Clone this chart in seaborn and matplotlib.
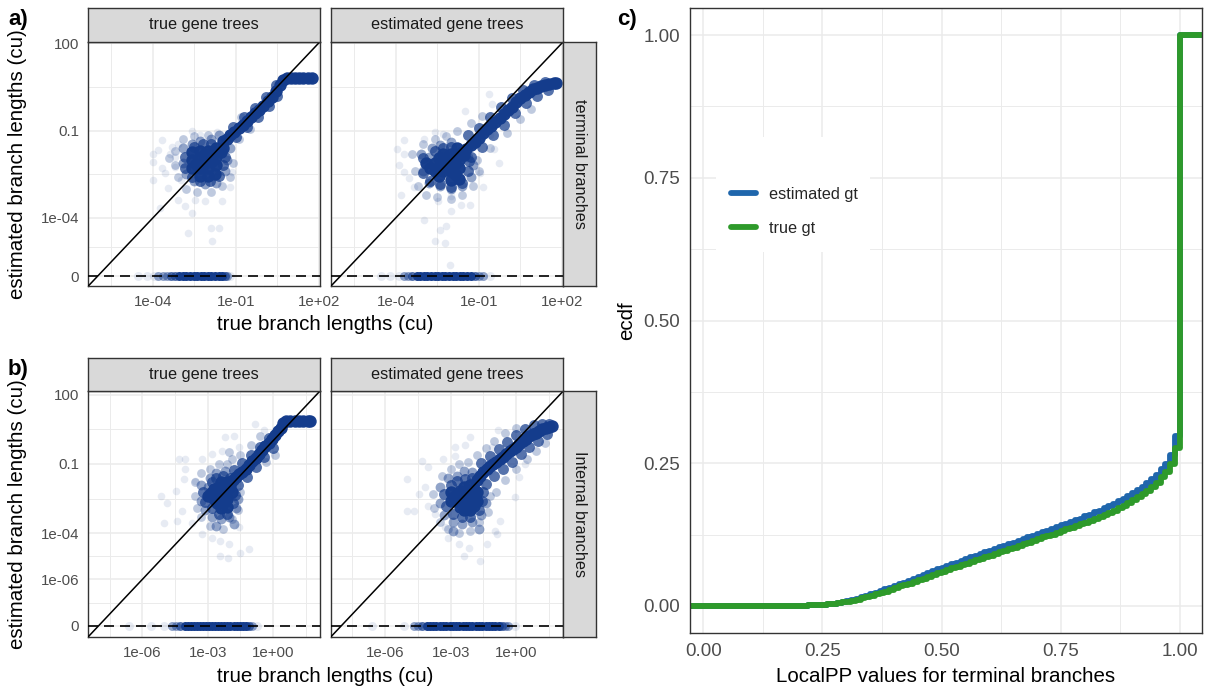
import numpy as np
import pandas as pd
import matplotlib
matplotlib.use("Agg")
import matplotlib.pyplot as plt
from matplotlib.lines import Line2D
from matplotlib.patches import Rectangle
from matplotlib.ticker import FixedLocator, NullFormatter
import seaborn as sns

# ------------------------------------------------------------------
# Branch-length comparison data (log10 of true / estimated length).
# Each location carries the number of gene-tree branches found there;
# the group name gives that count (see GROUP_COUNTS).
# ------------------------------------------------------------------
GROUP_COUNTS = {"dense": 40, "mid": 12, "light": 6, "faint": 3, "single": 1}

# a) terminal branches, true gene trees
term_true_dense = [
    (0.72, 0.74), (0.85, 0.79), (1.0, 0.81), (1.15, 0.82), (1.3, 0.82), (1.45, 0.82),
    (1.6, 0.82), (1.75, 0.81),
    (-1.2, -1.17), (-1.05, -1.04), (-0.9, -0.92), (-0.75, -0.8), (-0.6, -0.67), (-0.45, -0.54),
    (-0.3, -0.41), (-0.15, -0.28), (0.0, -0.15), (0.15, 0.0), (0.3, 0.16), (0.45, 0.34),
    (0.6, 0.55),
    (-2.6, -2.3), (-2.3, -2.3), (-2.0, -2.3), (-1.7, -2.2), (-2.6, -2.0), (-2.3, -2.0),
    (-2.0, -2.0), (-1.7, -1.9), (-1.45, -1.6), (-2.3, -1.7), (-2.0, -1.7), (-1.7, -1.6),
    (-1.45, -1.35), (-2.0, -2.55), (-1.75, -2.5), (-2.3, -2.55), (-2.6, -1.75), (-1.3, -1.3),
    (-2.45, -2.15), (-2.15, -2.15), (-1.85, -2.05), (-2.15, -1.85), (-1.85, -1.75), (-1.55, -1.75),
]
term_true_mid = [
    (-1.1, -0.88), (-0.7, -0.55), (-0.3, -0.21), (0.1, 0.15), (0.45, 0.55),
    (-1.0, -1.22), (-0.6, -0.89), (-0.2, -0.55), (0.2, -0.17), (0.5, 0.19),
    (-2.85, -1.9), (-2.85, -2.3), (-2.6, -2.6), (-2.3, -2.75), (-1.95, -2.75), (-1.6, -2.55),
    (-1.45, -2.2), (-1.4, -1.9), (-2.5, -1.55), (-2.2, -1.45), (-1.9, -1.45),
]
term_true_light = [
    (-2.9, -1.6), (-2.9, -2.1), (-2.8, -2.5), (-2.5, -2.75), (-2.1, -2.85), (-1.7, -2.8),
    (-1.4, -2.4), (-1.3, -2.0), (-1.2, -1.6), (-2.6, -1.45), (-2.3, -1.35), (-1.9, -1.3),
    (-1.6, -1.15),
]
term_true_faint = [
    (-3.2, -1.7), (-3.2, -2.2), (-3.1, -2.6), (-2.8, -3.0), (-2.4, -3.1), (-1.9, -3.1),
    (-1.5, -2.9), (-1.2, -2.6), (-1.1, -2.1), (-2.9, -1.3), (-2.5, -1.2), (-3.4, -1.95),
    (-2.0, -1.15), (-0.9, -1.3), (-0.5, -0.95), (-0.8, -0.55),
]
term_true_single = [
    (-3.67, -1.34), (-4.0, -1.79), (-4.0, -2.08), (-3.67, -2.30), (-4.0, -2.70), (-3.45, -2.98),
    (-3.31, -1.57), (-3.09, -1.45), (-2.60, -1.0), (-2.30, -1.17), (-1.69, -1.06), (-3.21, -2.25),
    (-3.57, -2.47), (-2.97, -2.70), (-3.09, -3.38), (-2.84, -3.60), (-2.48, -3.38), (-2.11, -3.43),
    (-2.60, -3.83), (-1.51, -3.43), (-1.20, -2.93), (-1.14, -2.42), (-3.76, -3.66), (-2.72, -4.51),
    (-1.90, -4.35), (-1.60, -4.36), (-1.85, -4.78), (-3.39, -1.79), (-3.21, -1.91), (-3.82, -1.68),
]
term_true_zero_dense = [-3.05, -2.92, -2.79, -2.66, -2.53, -2.4, -2.27, -2.14, -2.01, -1.88,
                        -1.75, -1.62, -1.5]
term_true_zero_mid = [-3.2, -3.35, -1.4]
term_true_zero_light = [-3.5, -3.65, -3.8, -1.3]
term_true_zero_single = [-4.55, -4.2, -3.95, -1.2]

# a) terminal branches, estimated gene trees
term_est_dense = [
    (-1.6, -1.75), (-1.45, -1.62), (-1.3, -1.5), (-1.15, -1.38), (-1.0, -1.25), (-0.85, -1.1),
    (-0.7, -0.95), (-0.55, -0.83), (-0.4, -0.72), (-0.25, -0.58), (-0.1, -0.45), (0.05, -0.3),
    (0.2, -0.18), (0.35, -0.03), (0.5, 0.1), (0.65, 0.22), (0.8, 0.33), (0.95, 0.41),
    (1.1, 0.47), (1.25, 0.53), (1.4, 0.57), (1.55, 0.6), (1.7, 0.62), (1.78, 0.63),
    (-2.6, -2.4), (-2.3, -2.4), (-2.0, -2.4), (-1.7, -2.3), (-2.6, -2.1), (-2.3, -2.1),
    (-2.0, -2.1), (-1.7, -2.0), (-2.3, -1.8), (-2.0, -1.8), (-1.8, -1.6), (-2.0, -2.7),
    (-1.7, -2.65), (-2.9, -2.1),
    (-2.45, -2.25), (-2.15, -2.25), (-1.85, -2.15), (-2.15, -1.95), (-1.85, -1.85),
    (-2.45, -1.95), (-1.55, -1.85), (-2.45, -2.55), (-1.85, -2.5), (-2.75, -2.3),
]
term_est_mid = [
    (-1.4, -1.15), (-1.0, -0.9), (-0.6, -0.55), (-0.2, -0.2), (0.2, 0.12), (0.6, 0.38),
    (1.0, 0.58), (1.4, 0.68), (-1.3, -1.9), (-0.9, -1.55), (-0.5, -1.15), (-0.1, -0.8),
    (0.3, -0.4), (0.7, -0.05), (1.1, 0.2), (1.5, 0.4),
    (-3.0, -1.95), (-3.0, -2.45), (-2.75, -2.75), (-2.4, -2.85), (-2.0, -2.95), (-1.6, -2.8),
    (-1.4, -2.4), (-1.35, -2.05), (-2.6, -1.7), (-2.3, -1.6), (-2.0, -1.55),
]
term_est_light = [
    (-3.1, -1.8), (-3.0, -2.4), (-2.8, -2.8), (-2.4, -2.9), (-2.0, -3.0), (-1.6, -2.9),
    (-1.3, -2.6), (-1.2, -2.2), (-2.7, -1.6), (-2.4, -1.5), (-2.0, -1.4), (-2.8, -1.9),
    (-1.4, -1.9),
]
term_est_faint = [
    (-3.4, -1.8), (-3.3, -2.4), (-3.2, -2.9), (-2.9, -3.2), (-2.5, -3.3), (-2.0, -3.35),
    (-1.6, -3.2), (-1.2, -2.9), (-1.0, -2.4), (-1.05, -2.0), (-3.0, -1.45), (-2.6, -1.3),
    (-2.2, -1.2), (-1.8, -1.0), (-1.3, -0.75), (-0.9, -0.5), (0.0, -1.1), (0.5, -0.6),
    (0.9, -0.25), (-0.6, -1.6),
]
term_est_single = [
    (-3.70, -1.34), (-3.94, -1.62), (-3.70, -1.79), (-3.88, -2.19), (-3.70, -2.42), (-3.51, -2.64),
    (-3.82, -3.21), (-3.33, -2.93), (-2.60, -1.06), (-2.30, -1.11), (-2.97, -1.28), (-2.48, -3.43),
    (-1.99, -3.26), (-1.63, -3.55), (-1.32, -3.55), (-2.97, -4.06), (-1.99, -3.77), (-2.42, -4.40),
    (-2.18, -4.28), (-2.60, -4.79), (-2.24, -4.85), (-2.05, -5.62), (-0.96, -2.47), (-0.84, -2.93),
    (-0.29, -2.13), (-1.51, -0.32), (-0.65, 0.25), (-0.53, -0.09), (-0.47, -1.62), (0.44, 0.08),
    (-0.59, -1.17),
]
term_est_zero_dense = [-3.25, -3.12, -2.99, -2.86, -2.73, -2.6, -2.47, -2.34, -2.21, -2.08,
                       -1.95, -1.82, -1.69, -1.56, -1.43, -1.3]
term_est_zero_mid = [-3.4, -1.15]
term_est_zero_light = [-3.55, -3.7, -1.0, -0.85]
term_est_zero_single = [-4.55, -4.2, -3.9, -0.6]

# b) internal branches, true gene trees
int_true_dense = [
    (0.45, 0.78), (0.6, 0.84), (0.8, 0.86), (1.0, 0.86), (1.2, 0.86), (1.4, 0.86),
    (1.6, 0.86), (1.72, 0.85),
    (-2.0, -1.85), (-1.85, -1.7), (-1.7, -1.55), (-1.55, -1.45), (-1.4, -1.35), (-1.25, -1.2),
    (-1.1, -1.05), (-0.95, -0.88), (-0.8, -0.72), (-0.65, -0.55), (-0.5, -0.38), (-0.35, -0.23),
    (-0.2, -0.08), (-0.05, 0.08), (0.1, 0.25), (0.25, 0.42), (0.35, 0.55),
    (-3.0, -2.4), (-2.7, -2.5), (-2.4, -2.6), (-2.1, -2.5), (-2.7, -2.1), (-2.4, -2.2),
    (-2.1, -2.1), (-2.4, -1.8), (-2.1, -1.8), (-1.9, -2.2), (-2.4, -2.9), (-2.1, -2.85),
    (-2.85, -2.25), (-2.55, -2.35), (-2.25, -2.35), (-2.55, -2.05), (-2.25, -1.95),
    (-2.25, -2.65), (-1.95, -1.95), (-2.55, -2.7),
]
int_true_mid = [
    (-1.8, -1.25), (-1.4, -0.95), (-1.0, -0.6), (-0.6, -0.25), (-0.2, 0.12),
    (-1.6, -1.9), (-1.2, -1.55), (-0.8, -1.15), (-0.4, -0.7), (0.0, -0.3),
    (-3.2, -2.2), (-3.1, -2.65), (-2.8, -2.9), (-2.5, -3.15), (-2.1, -3.15), (-1.85, -2.7),
    (-1.75, -2.35), (-2.8, -1.8), (-2.6, -1.6), (-2.3, -1.5), (-1.95, -1.6),
]
int_true_light = [
    (-3.3, -1.9), (-3.3, -2.6), (-3.1, -3.0), (-2.8, -3.3), (-2.4, -3.4), (-2.0, -3.3),
    (-1.7, -2.9), (-1.6, -2.5), (-2.9, -1.6), (-2.6, -1.4), (-2.2, -1.3), (-3.0, -2.0),
    (-1.8, -3.6), (-2.6, -3.7),
]
int_true_faint = [
    (-3.6, -1.8), (-3.6, -2.4), (-3.5, -2.9), (-3.3, -3.3), (-2.9, -3.7), (-2.3, -3.8),
    (-1.9, -3.4), (-1.6, -3.0), (-1.5, -2.2), (-3.3, -1.4), (-2.9, -1.2), (-2.5, -1.0),
    (-2.1, -1.0), (-1.9, -0.8), (-1.5, -0.6), (-1.0, -0.2), (-0.6, 0.2), (-0.3, -0.9),
    (0.1, -0.6), (-2.0, -0.5),
]
int_true_single = [
    (-4.32, -0.78), (-4.02, -0.78), (-4.02, -1.22), (-4.09, -1.65), (-3.56, -1.72), (-5.16, -2.38),
    (-4.85, -2.67), (-4.47, -2.16), (-4.17, -3.03), (-5.01, -3.54), (-4.40, -3.46), (-3.71, -3.54),
    (-3.25, -0.78), (-2.34, -0.42), (-2.18, 0.16), (-1.80, 0.23), (-0.81, 0.74), (-0.43, 0.45),
    (-2.41, -4.33), (-2.03, -4.48), (-1.50, -4.84), (-1.11, -4.70), (-2.41, -4.99), (-2.06, -5.06),
    (-2.79, -4.19), (-1.57, -3.75), (-3.25, -4.04), (-2.79, -0.57), (-1.57, -0.28),
]
int_true_zero_dense = [-4.05, -3.91, -3.77, -3.63, -3.49, -3.35, -3.21, -3.07, -2.93, -2.79,
                       -2.65, -2.51, -2.37, -2.23, -2.09, -1.95, -1.81, -1.67, -1.53, -1.39,
                       -1.25]
int_true_zero_mid = [-4.25, -1.1]
int_true_zero_light = [-4.45, -4.65, -0.95]
int_true_zero_single = [-6.6, -5.6, -5.0, -0.75]

# b) internal branches, estimated gene trees
int_est_dense = [
    (-1.8, -1.7), (-1.65, -1.52), (-1.5, -1.35), (-1.35, -1.22), (-1.2, -1.1), (-1.05, -1.0),
    (-0.9, -0.9), (-0.75, -0.8), (-0.6, -0.7), (-0.45, -0.57), (-0.3, -0.45), (-0.15, -0.35),
    (0.0, -0.25), (0.15, -0.12), (0.3, 0.0), (0.45, 0.1), (0.6, 0.2), (0.75, 0.28),
    (0.9, 0.35), (1.05, 0.43), (1.2, 0.5), (1.35, 0.56), (1.5, 0.62), (1.62, 0.64),
    (-3.0, -2.6), (-2.7, -2.6), (-2.4, -2.7), (-2.1, -2.7), (-1.8, -2.6), (-2.7, -2.3),
    (-2.4, -2.3), (-2.1, -2.3), (-1.8, -2.2), (-2.4, -2.0), (-2.1, -1.9), (-2.4, -3.0),
    (-2.1, -3.0), (-3.0, -2.2),
    (-2.85, -2.45), (-2.55, -2.45), (-2.25, -2.5), (-1.95, -2.45), (-2.55, -2.15),
    (-2.25, -2.15), (-1.95, -2.1), (-2.55, -2.85), (-2.25, -2.85), (-1.95, -2.8),
]
int_est_mid = [
    (-1.6, -0.95), (-1.2, -0.65), (-0.8, -0.35), (-0.4, -0.05), (0.0, 0.25), (0.4, 0.5),
    (0.8, 0.68), (1.2, 0.72), (1.5, 0.72), (-1.4, -1.85), (-1.0, -1.5), (-0.6, -1.2),
    (-0.2, -0.9), (0.2, -0.55), (0.6, -0.25), (1.0, 0.0), (1.4, 0.3),
    (-3.3, -2.3), (-3.2, -2.8), (-2.9, -3.15), (-2.5, -3.3), (-2.1, -3.3), (-1.7, -3.0),
    (-1.55, -2.6), (-1.5, -2.2), (-3.0, -1.9), (-2.7, -1.75), (-2.35, -1.65), (-2.0, -1.6),
]
int_est_light = [
    (-3.5, -2.0), (-3.5, -2.7), (-3.3, -3.2), (-2.9, -3.5), (-2.5, -3.6), (-2.0, -3.5),
    (-1.6, -3.2), (-1.4, -2.7), (-3.1, -1.6), (-2.7, -1.5), (-2.4, -1.3), (-2.0, -1.35),
    (-1.7, -3.8), (-2.9, -3.9),
]
int_est_faint = [
    (-3.8, -2.3), (-3.75, -2.9), (-3.5, -3.5), (-3.1, -3.8), (-2.6, -4.0), (-2.1, -3.9),
    (-1.7, -3.5), (-1.3, -3.1), (-1.2, -2.4), (-3.4, -1.5), (-3.0, -1.2), (-2.6, -1.0),
    (-2.2, -0.9), (-1.8, -0.6), (-1.4, -0.3), (-1.0, 0.0), (-0.5, 0.35), (0.0, 0.55),
    (-0.9, -2.2), (-0.5, -1.7), (0.0, -1.2), (0.5, -0.8), (0.9, -0.45), (1.3, -0.1),
]
int_est_single = [
    (-4.32, -0.86), (-4.02, -1.14), (-3.33, -0.78), (-2.79, -0.64), (-2.79, -0.28), (-2.11, 0.16),
    (-2.34, -0.20), (-0.81, 0.45), (-1.11, -0.28), (-5.01, -1.65), (-4.47, -2.30), (-5.01, -3.03),
    (-4.70, -3.03), (-4.02, -2.81), (-4.17, -2.01), (-3.71, -3.17), (-3.25, -3.75), (-3.10, -4.19),
    (-2.64, -4.48), (-2.41, -4.99), (-1.65, -5.20), (-2.18, -4.62), (-1.34, -4.48), (-0.89, -4.04),
    (-0.73, -3.46), (-0.05, -2.45), (0.11, -1.58), (0.41, -1.0), (-0.96, -3.90),
]
int_est_zero_dense = [-4.1, -3.95, -3.8, -3.65, -3.5, -3.35, -3.2, -3.05, -2.9, -2.75, -2.6,
                      -2.45, -2.3, -2.15, -2.0, -1.85, -1.7, -1.55, -1.4, -1.25, -1.1, -0.95,
                      -0.8]
int_est_zero_mid = [-4.3, -0.65]
int_est_zero_light = [-4.5, -4.7, -0.5, -0.35]
int_est_zero_single = [-6.6, -5.15, -0.05]

# c) ECDF of LocalPP values for terminal branches (value reached at each level)
pp_levels = np.round(np.arange(20, 101) / 100.0, 2)
ecdf_estimated = [
    0.000, 0.000, 0.001, 0.001, 0.001, 0.002, 0.003, 0.004, 0.005, 0.007,
    0.008, 0.010, 0.012, 0.015, 0.018, 0.020, 0.023, 0.026, 0.029, 0.032,
    0.035, 0.038, 0.041, 0.044, 0.047, 0.051, 0.054, 0.058, 0.061, 0.064,
    0.067, 0.070, 0.073, 0.076, 0.079, 0.082, 0.085, 0.088, 0.091, 0.094,
    0.097, 0.100, 0.103, 0.105, 0.108, 0.111, 0.114, 0.117, 0.120, 0.123,
    0.126, 0.129, 0.132, 0.135, 0.138, 0.141, 0.144, 0.147, 0.150, 0.153,
    0.157, 0.160, 0.164, 0.167, 0.171, 0.175, 0.179, 0.183, 0.188, 0.193,
    0.198, 0.203, 0.209, 0.215, 0.222, 0.230, 0.239, 0.249, 0.265, 0.297,
    1.000,
]
ecdf_true = [
    0.000, 0.000, 0.001, 0.001, 0.001, 0.002, 0.003, 0.004, 0.005, 0.006,
    0.007, 0.009, 0.011, 0.013, 0.015, 0.017, 0.020, 0.022, 0.025, 0.028,
    0.031, 0.034, 0.036, 0.039, 0.042, 0.045, 0.048, 0.051, 0.054, 0.057,
    0.060, 0.063, 0.066, 0.068, 0.071, 0.074, 0.077, 0.080, 0.082, 0.085,
    0.088, 0.091, 0.094, 0.096, 0.099, 0.102, 0.105, 0.108, 0.111, 0.114,
    0.117, 0.120, 0.122, 0.125, 0.128, 0.131, 0.134, 0.137, 0.140, 0.143,
    0.146, 0.149, 0.153, 0.156, 0.159, 0.163, 0.167, 0.171, 0.175, 0.180,
    0.185, 0.190, 0.196, 0.202, 0.209, 0.216, 0.225, 0.235, 0.248, 0.277,
    1.000,
]

# ------------------------------------------------------------------
# Style
# ------------------------------------------------------------------
sns.set_style("white")
plt.rcParams["font.family"] = ["Liberation Sans", "DejaVu Sans"]

POINT = "#143C8C"
BLUE = "#1F66AC"
GREEN = "#2E9A2A"
GRID = "#EBEBEB"
BORDER = "#333333"
STRIP = "#D9D9D9"
TICKLAB = "#4D4D4D"
SINGLE_ALPHA = 0.10
MARKER_SIZE = {40: 80, 12: 62, 6: 50, 3: 40, 1: 30}
ZERO_MARKER_SIZE = 42

W, H = 1207, 689
fig = plt.figure(figsize=(W / 100, H / 100), dpi=100)


def box(l, t, r, b):
    return [l / W, 1 - b / H, (r - l) / W, (b - t) / H]


def frame_axes(ax):
    for sp in ax.spines.values():
        sp.set_color(BORDER)
        sp.set_linewidth(1.0)
        sp.set_visible(True)


def panel_frame(groups, zero_groups):
    rows = []
    for group, pts in groups.items():
        for lx, ly in pts:
            rows.append((10.0 ** lx, 10.0 ** ly, GROUP_COUNTS[group]))
    for group, xs in zero_groups.items():
        for lx in xs:
            rows.append((10.0 ** lx, 0.0, GROUP_COUNTS[group]))
    return pd.DataFrame(rows, columns=["true_bl", "est_bl", "count"])


def draw_scatter(ax, df, floor, lim, yticks, ylabels, yminor, xticks, xlabels, xminor, show_y):
    df = df.copy()
    df["est_shown"] = np.where(df["est_bl"] > 0, df["est_bl"], floor)
    df["is_zero"] = df["est_bl"] <= 0
    for (cnt, is_zero), sub in df.groupby(["count", "is_zero"]):
        sns.scatterplot(data=sub, x="true_bl", y="est_shown", ax=ax, color=POINT,
                        alpha=1 - (1 - SINGLE_ALPHA) ** cnt,
                        s=ZERO_MARKER_SIZE if is_zero else MARKER_SIZE[cnt],
                        linewidth=0, legend=False, zorder=2)
    ax.set_xscale("log")
    ax.set_yscale("log")
    ax.set_xlim(10 ** lim[0], 10 ** lim[1])
    ax.set_ylim(10 ** lim[0], 10 ** lim[1])
    ax.set_xticks(xticks, xlabels)
    ax.set_yticks(yticks, ylabels)
    ax.xaxis.set_minor_locator(FixedLocator(xminor))
    ax.yaxis.set_minor_locator(FixedLocator(yminor))
    ax.xaxis.set_minor_formatter(NullFormatter())
    ax.yaxis.set_minor_formatter(NullFormatter())
    ax.set_axisbelow(True)
    ax.grid(which="major", color=GRID, lw=1.1)
    ax.grid(which="minor", color=GRID, lw=0.7)
    ax.tick_params(which="minor", length=0)
    ax.tick_params(which="major", length=3.6, width=0.8, color=BORDER,
                   labelcolor=TICKLAB, labelsize=10.8, pad=3)
    if not show_y:
        ax.tick_params(axis="y", which="major", length=0, labelleft=False)
    ax.axline((1e-3, 1e-3), (1.0, 1.0), color="black", lw=1.1, zorder=3)
    ax.axhline(floor, color="black", lw=1.2, ls=(0, (6, 3.6)), zorder=3)
    ax.set_xlabel("")
    ax.set_ylabel("")
    frame_axes(ax)


def strip(rect, text, rotation=0):
    sax = fig.add_axes(rect)
    sax.set_facecolor(STRIP)
    sax.set_xticks([])
    sax.set_yticks([])
    frame_axes(sax)
    sax.text(0.5, 0.5, text, transform=sax.transAxes, ha="center", va="center",
             fontsize=11.7, color="#1A1A1A", rotation=rotation)


# ------------------------------------------------------------------
# a) terminal branches
# ------------------------------------------------------------------
a_lim = (-6.34, 2.05)
a_yt, a_yl = [1e2, 1e-1, 1e-4, 1e-6], ["100", "0.1", "1e-04", "0"]
a_ym = [10 ** 0.5, 10 ** -2.5, 10 ** -5]
a_xt, a_xl = [1e-4, 1e-1, 1e2], ["1e-04", "1e-01", "1e+02"]
a_xm = [10 ** -5.5, 10 ** -2.5, 10 ** 0.5]

ax_a1 = fig.add_axes(box(88.3, 41.7, 320, 286))
df_a1 = panel_frame(
    {"dense": term_true_dense, "mid": term_true_mid, "light": term_true_light,
     "faint": term_true_faint, "single": term_true_single},
    {"dense": term_true_zero_dense, "mid": term_true_zero_mid,
     "light": term_true_zero_light, "single": term_true_zero_single})
draw_scatter(ax_a1, df_a1, 1e-6, a_lim, a_yt, a_yl, a_ym, a_xt, a_xl, a_xm, True)

ax_a2 = fig.add_axes(box(331, 41.7, 563.3, 286))
df_a2 = panel_frame(
    {"dense": term_est_dense, "mid": term_est_mid, "light": term_est_light,
     "faint": term_est_faint, "single": term_est_single},
    {"dense": term_est_zero_dense, "mid": term_est_zero_mid,
     "light": term_est_zero_light, "single": term_est_zero_single})
draw_scatter(ax_a2, df_a2, 1e-6, a_lim, a_yt, a_yl, a_ym, a_xt, a_xl, a_xm, False)

strip(box(88.3, 8.3, 320, 41.7), "true gene trees")
strip(box(331, 8.3, 563.3, 41.7), "estimated gene trees")
strip(box(563.3, 41.7, 596, 286), "terminal branches", rotation=270)

# ------------------------------------------------------------------
# b) internal branches
# ------------------------------------------------------------------
b_lim = (-8.48, 2.16)
b_yt, b_yl = [1e2, 1e-1, 1e-4, 1e-6, 1e-8], ["100", "0.1", "1e-04", "1e-06", "0"]
b_ym = [10 ** 0.5, 10 ** -2.5, 10 ** -5, 10 ** -7]
b_xt, b_xl = [1e-6, 1e-3, 1e0], ["1e-06", "1e-03", "1e+00"]
b_xm = [10 ** -7.5, 10 ** -4.5, 10 ** -1.5, 10 ** 1.5]

ax_b1 = fig.add_axes(box(88.3, 391, 320, 636.7))
df_b1 = panel_frame(
    {"dense": int_true_dense, "mid": int_true_mid, "light": int_true_light,
     "faint": int_true_faint, "single": int_true_single},
    {"dense": int_true_zero_dense, "mid": int_true_zero_mid,
     "light": int_true_zero_light, "single": int_true_zero_single})
draw_scatter(ax_b1, df_b1, 1e-8, b_lim, b_yt, b_yl, b_ym, b_xt, b_xl, b_xm, True)

ax_b2 = fig.add_axes(box(331, 391, 563.3, 636.7))
df_b2 = panel_frame(
    {"dense": int_est_dense, "mid": int_est_mid, "light": int_est_light,
     "faint": int_est_faint, "single": int_est_single},
    {"dense": int_est_zero_dense, "mid": int_est_zero_mid,
     "light": int_est_zero_light, "single": int_est_zero_single})
draw_scatter(ax_b2, df_b2, 1e-8, b_lim, b_yt, b_yl, b_ym, b_xt, b_xl, b_xm, False)

strip(box(88.3, 358.3, 320, 391), "true gene trees")
strip(box(331, 358.3, 563.3, 391), "estimated gene trees")
strip(box(563.3, 391, 596, 636.7), "Internal branches", rotation=270)

# axis titles for a) and b)
TITLE_FS = 14.8
for cy in (164, 514):
    fig.text(18 / W, 1 - cy / H, "estimated branch lengths (cu)", rotation=90,
             ha="center", va="center", fontsize=TITLE_FS, color="black")
for cy in (325, 676):
    fig.text(325.6 / W, 1 - cy / H, "true branch lengths (cu)",
             ha="center", va="center", fontsize=TITLE_FS, color="black")

# ------------------------------------------------------------------
# c) ECDF of LocalPP
# ------------------------------------------------------------------
axc = fig.add_axes(box(690, 8.3, 1201.7, 633.3))
xlo, xhi = -0.028, 1.046
axc.set_xlim(xlo, xhi)
axc.set_ylim(-0.048, 1.047)
ext_x = np.concatenate([[xlo], pp_levels, [xhi]])
for vals, col in ((ecdf_estimated, BLUE), (ecdf_true, GREEN)):
    ext_y = np.concatenate([[0.0], vals, [1.0]])
    sns.lineplot(x=ext_x, y=ext_y, ax=axc, color=col, lw=4.2, drawstyle="steps-post",
                 estimator=None, sort=False, legend=False, zorder=2)
cticks = [0.0, 0.25, 0.5, 0.75, 1.0]
clabels = ["0.00", "0.25", "0.50", "0.75", "1.00"]
cminor = [0.125, 0.375, 0.625, 0.875]
axc.set_xticks(cticks, clabels)
axc.set_yticks(cticks, clabels)
axc.xaxis.set_minor_locator(FixedLocator(cminor))
axc.yaxis.set_minor_locator(FixedLocator(cminor))
axc.set_axisbelow(True)
axc.grid(which="major", color=GRID, lw=1.1)
axc.grid(which="minor", color=GRID, lw=0.7)
axc.tick_params(which="minor", length=0)
axc.tick_params(which="major", length=3.6, width=0.8, color=BORDER,
                labelcolor=TICKLAB, labelsize=13.5, pad=3.5)
axc.set_xlabel("")
axc.set_ylabel("")
frame_axes(axc)

# legend with its white key box
axc.add_patch(Rectangle((716 / W, 1 - 252 / H), (870 - 716) / W, (252 - 137) / H,
                        transform=fig.transFigure, facecolor="white", edgecolor="none",
                        zorder=1.5, clip_on=False))
handles = [Line2D([], [], color=BLUE, lw=4.2), Line2D([], [], color=GREEN, lw=4.2)]
axc.legend(handles, ["estimated gt", "true gt"], loc="upper left",
           bbox_to_anchor=(731 / W, 1 - 187 / H), bbox_transform=fig.transFigure,
           frameon=False, fontsize=11.7, handlelength=1.55, handletextpad=0.8,
           labelspacing=1.17, borderpad=0, borderaxespad=0)

fig.text(946 / W, 1 - 677 / H, "LocalPP values for terminal branches",
         ha="center", va="center", fontsize=TITLE_FS, color="black")
fig.text(627 / W, 1 - 321 / H, "ecdf", rotation=90,
         ha="center", va="center", fontsize=TITLE_FS, color="black")

# panel letters
for txt, x, y in (("a)", 8, 20), ("b)", 8, 369), ("c)", 617, 20)):
    fig.text(x / W, 1 - y / H, txt, ha="left", va="center", fontsize=16,
             fontweight="bold", color="black")

fig.savefig("out.png", dpi=100)
